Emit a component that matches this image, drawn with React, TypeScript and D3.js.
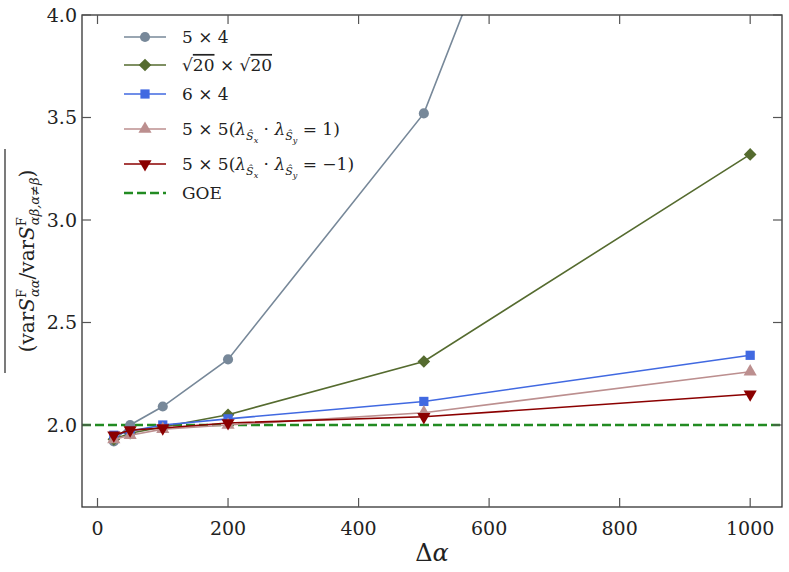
import React from 'react'
import * as d3 from 'd3'

// Δα values and the measured ratio for each lattice
const deltaAlpha = [25, 50, 100, 200, 500, 1000]
const ratio5x4 = [1.92, 2.0, 2.09, 2.32, 3.52, 7.6]
const ratioSqrt20 = [1.93, 1.96, 1.99, 2.05, 2.31, 3.32]
const ratio6x4 = [1.95, 1.97, 2.0, 2.03, 2.115, 2.34]
const ratio5x5Plus = [1.93, 1.95, 1.98, 2.0, 2.06, 2.26]
const ratio5x5Minus = [1.95, 1.975, 1.985, 2.01, 2.04, 2.15]
const goeValue = 2.0

const xTicks = [0, 200, 400, 600, 800, 1000]
const yTicks = [2.0, 2.5, 3.0, 3.5, 4.0]

const series = [
  { key: '5x4', values: ratio5x4, color: '#778899', marker: 'circle' },
  { key: 'sqrt20', values: ratioSqrt20, color: '#556B2F', marker: 'diamond' },
  { key: '6x4', values: ratio6x4, color: '#4169E1', marker: 'square' },
  { key: '5x5p', values: ratio5x5Plus, color: '#BC8F8F', marker: 'triangleUp' },
  { key: '5x5m', values: ratio5x5Minus, color: '#8B0000', marker: 'triangleDown' }
]

const W = 789
const H = 572
const margin = { top: 15, right: 7, bottom: 65, left: 82 }
const FONT = "'DejaVu Serif', 'Liberation Serif', serif"

const symbolPath = (marker: string) => {
  switch (marker) {
    case 'diamond':
      return d3.symbol(d3.symbolSquare, 80)() as string
    case 'square':
      return d3.symbol(d3.symbolSquare, 85)() as string
    case 'triangleUp':
    case 'triangleDown':
      return d3.symbol(d3.symbolTriangle, 75)() as string
    default:
      return d3.symbol(d3.symbolCircle, 80)() as string
  }
}

const Marker: React.FC<{ marker: string; color: string; x: number; y: number }> = ({
  marker,
  color,
  x,
  y
}) => {
  const rot = marker === 'triangleDown' ? ' rotate(180)' : marker === 'diamond' ? ' rotate(45)' : ''
  return <path d={symbolPath(marker)} fill={color} transform={`translate(${x},${y})${rot}`} />
}

// legend label with the lambda subscripts
const LambdaLabel: React.FC<{ sign: string }> = ({ sign }) => (
  <>
    <tspan>5 × 5(</tspan>
    <tspan fontStyle="italic">λ</tspan>
    <tspan fontSize="11" fontStyle="italic" dy="5">Ŝ</tspan>
    <tspan fontSize="8" fontStyle="italic" dy="3">x</tspan>
    <tspan dy="-8"> · </tspan>
    <tspan fontStyle="italic">λ</tspan>
    <tspan fontSize="11" fontStyle="italic" dy="5">Ŝ</tspan>
    <tspan fontSize="8" fontStyle="italic" dy="3">y</tspan>
    <tspan dy="-8"> = {sign}1)</tspan>
  </>
)

export default function App() {
  const x = d3
    .scaleLinear()
    .domain([-23.75, 1048.75])
    .range([margin.left, W - margin.right])
  const y = d3
    .scaleLinear()
    .domain([1.6, 4.0])
    .range([H - margin.bottom, margin.top])

  const line = d3
    .line<number>()
    .x((_, i) => x(deltaAlpha[i]))
    .y((d) => y(d))

  const x0 = margin.left
  const x1 = W - margin.right
  const y0 = H - margin.bottom
  const y1 = margin.top
  const tickLen = 9

  const legendRows = [
    { s: series[0], label: <tspan>5 × 4</tspan> },
    {
      s: series[1],
      label: (
        <>
          <tspan>√</tspan>
          <tspan textDecoration="overline">20</tspan>
          <tspan> × √</tspan>
          <tspan textDecoration="overline">20</tspan>
        </>
      )
    },
    { s: series[2], label: <tspan>6 × 4</tspan> },
    { s: series[3], label: <LambdaLabel sign="" /> },
    { s: series[4], label: <LambdaLabel sign="−" /> }
  ]
  const legendY = [37, 65, 94, 129, 164]

  return (
    <svg
      width={W}
      height={H}
      style={{ position: 'absolute', left: 0, top: 0, background: '#fff', fontFamily: FONT }}
    >
      <defs>
        <clipPath id="plot">
          <rect x={x0} y={y1} width={x1 - x0} height={y0 - y1} />
        </clipPath>
      </defs>

      <g clipPath="url(#plot)">
        <line
          x1={x0}
          x2={x1}
          y1={y(goeValue)}
          y2={y(goeValue)}
          stroke="#228B22"
          strokeWidth={2.6}
          strokeDasharray="9 4"
        />
        {series.map((s) => (
          <g key={s.key}>
            <path d={line(s.values) as string} fill="none" stroke={s.color} strokeWidth={1.6} />
            {s.values.map((v, i) => (
              <Marker key={i} marker={s.marker} color={s.color} x={x(deltaAlpha[i])} y={y(v)} />
            ))}
          </g>
        ))}
      </g>

      {/* frame */}
      <rect x={x0} y={y1} width={x1 - x0} height={y0 - y1} fill="none" stroke="#333" strokeWidth={1.3} />

      {/* x ticks, inward on bottom and top */}
      {xTicks.map((t) => (
        <g key={t}>
          <line x1={x(t)} x2={x(t)} y1={y0} y2={y0 - tickLen} stroke="#555" strokeWidth={1.2} />
          <line x1={x(t)} x2={x(t)} y1={y1} y2={y1 + tickLen} stroke="#555" strokeWidth={1.2} />
          <text x={x(t)} y={y0 + 28} textAnchor="middle" fontSize={19} fill="#222">
            {t}
          </text>
        </g>
      ))}

      {/* y ticks, inward on left and right */}
      {yTicks.map((t) => (
        <g key={t}>
          <line x1={x0} x2={x0 + tickLen} y1={y(t)} y2={y(t)} stroke="#555" strokeWidth={1.2} />
          <line x1={x1} x2={x1 - tickLen} y1={y(t)} y2={y(t)} stroke="#555" strokeWidth={1.2} />
          <text x={x0 - 5} y={y(t)} dy="0.35em" textAnchor="end" fontSize={19} fill="#222">
            {t.toFixed(1)}
          </text>
        </g>
      ))}

      {/* axis labels */}
      <text x={(x0 + x1) / 2} y={H - 11} textAnchor="middle" fontSize={24} fill="#222">
        Δ<tspan fontStyle="italic">α</tspan>
      </text>

      <g transform={`translate(34,${(y0 + y1) / 2}) rotate(-90)`}>
        <line x1={-112} x2={112} y1={-29} y2={-29} stroke="#222" strokeWidth={1.2} />
        <text textAnchor="middle" fontSize={20} fill="#222">
          <tspan>(var</tspan>
          <tspan fontStyle="italic">S</tspan>
          <tspan fontSize="13" dy="-8">F</tspan>
          <tspan fontSize="13" fontStyle="italic" dx="-8" dy="13">αα</tspan>
          <tspan dy="-5">/var</tspan>
          <tspan fontStyle="italic">S</tspan>
          <tspan fontSize="13" dy="-8">F</tspan>
          <tspan fontSize="13" fontStyle="italic" dx="-8" dy="13">αβ,α≠β</tspan>
          <tspan dy="-5">)</tspan>
        </text>
      </g>

      {/* legend */}
      <g fontSize={17} fill="#222">
        {legendRows.map((r, i) => (
          <g key={r.s.key}>
            <line x1={124} x2={166} y1={legendY[i]} y2={legendY[i]} stroke={r.s.color} strokeWidth={1.6} />
            <Marker marker={r.s.marker} color={r.s.color} x={145} y={legendY[i]} />
            <text x={182} y={legendY[i]} dy="0.35em">
              {r.label}
            </text>
          </g>
        ))}
        <line
          x1={124}
          x2={166}
          y1={193}
          y2={193}
          stroke="#228B22"
          strokeWidth={2.6}
          strokeDasharray="9 4"
        />
        <text x={182} y={193} dy="0.35em">
          GOE
        </text>
      </g>
    </svg>
  )
}
